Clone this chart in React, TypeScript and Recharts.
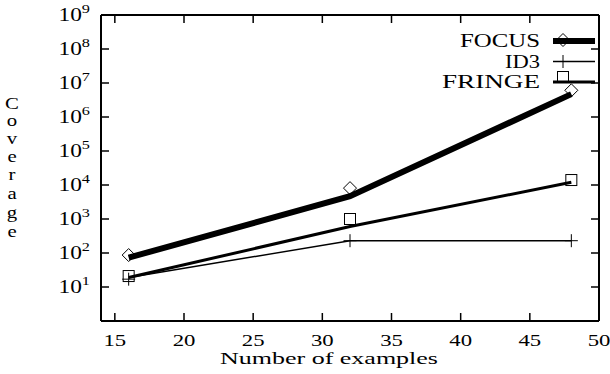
import React from "react";
import { ComposedChart, Line, XAxis, YAxis, Customized } from "recharts";

const xValues = [16, 32, 48];
const focusLine = [73, 4700, 4.7e6];
const focusPoints = [87, 8100, 6.1e6];
const id3Line = [19, 230, 230];
const id3Points = [17, 230, 230];
const fringeLine = [19, 600, 12000];
const fringePoints = [21, 1000, 14000];
const xTicks = [15, 20, 25, 30, 35, 40, 45, 50];
const yTicks = [10, 100, 1e3, 1e4, 1e5, 1e6, 1e7, 1e8, 1e9];
const legendLabels = ["FOCUS", "ID3", "FRINGE"];
const xLabel = "Number of examples";
const yLabel = "Coverage";

const data = xValues.map((x, i) => ({
  x,
  focusLine: focusLine[i],
  focusPoints: focusPoints[i],
  id3Line: id3Line[i],
  id3Points: id3Points[i],
  fringeLine: fringeLine[i],
  fringePoints: fringePoints[i],
}));

const FONT = "'Liberation Serif', serif";
const SX = 1.3;
const TL = 8;

const Diamond = (p: any) => {
  const { cx, cy } = p;
  if (cx == null || cy == null) return null;
  const r = 6.5;
  return <path key={p.index} d={`M${cx},${cy - r}L${cx + r},${cy}L${cx},${cy + r}L${cx - r},${cy}Z`} fill="none" stroke="#000" strokeWidth={1} />;
};
const Square = (p: any) => {
  const { cx, cy } = p;
  if (cx == null || cy == null) return null;
  const r = 5.5;
  return <rect key={p.index} x={cx - r} y={cy - r} width={2 * r} height={2 * r} fill="none" stroke="#000" strokeWidth={1} />;
};
const Plus = (p: any) => {
  const { cx, cy } = p;
  if (cx == null || cy == null) return null;
  const r = 6.5;
  return <path key={p.index} d={`M${cx - r},${cy}H${cx + r}M${cx},${cy - r}V${cy + r}`} fill="none" stroke="#000" strokeWidth={1} />;
};

const BottomTick = (p: any) => {
  const { x, y, payload } = p;
  return (
    <g>
      <line x1={x} y1={y} x2={x} y2={y - TL} stroke="#000" strokeWidth={1.5} />
      <g transform={`translate(${x},${y + 25}) scale(${SX},1)`}>
        <text x={0} y={0} textAnchor="middle" fontFamily={FONT} fontSize={17.5} fill="#000">{payload.value}</text>
      </g>
    </g>
  );
};
const TopTick = (p: any) => {
  const { x, y } = p;
  return <line x1={x} y1={y} x2={x} y2={y + TL} stroke="#000" strokeWidth={1.5} />;
};
const LeftTick = (p: any) => {
  const { x, y, payload } = p;
  const exp = Math.round(Math.log10(payload.value));
  return (
    <g>
      <line x1={x} y1={y} x2={x + TL} y2={y} stroke="#000" strokeWidth={1.5} />
      <g transform={`translate(${x - 11},${y + 6}) scale(${SX},1)`}>
        <text x={0} y={0} textAnchor="end" fontFamily={FONT} fontSize={18} fill="#000">
          <tspan>10</tspan>
          <tspan dy={-8} fontSize={12.5}>{exp}</tspan>
        </text>
      </g>
    </g>
  );
};
const RightTick = (p: any) => {
  const { x, y } = p;
  return <line x1={x} y1={y} x2={x - TL} y2={y} stroke="#000" strokeWidth={1.5} />;
};

const legendRows = [
  { label: legendLabels[0], w: 6, mark: "diamond", tl: 80 },
  { label: legendLabels[1], w: 1.5, mark: "plus", tl: 35 },
  { label: legendLabels[2], w: 3, mark: "square", tl: 98 },
];

const Extras = () => {
  const letters = yLabel.split("");
  const baselines = [109, 126, 144, 162, 180, 199, 218, 237];
  return (
    <g>
      {legendRows.map((r, i) => {
        const cy = 41 + i * 20.5;
        const mx = 563;
        return (
          <g key={r.label}>
            <text x={540} y={cy + 6} textAnchor="end" fontFamily={FONT} fontSize={18} fill="#000" textLength={r.tl} lengthAdjust="spacingAndGlyphs">{r.label}</text>
            <line x1={553} y1={cy} x2={595} y2={cy} stroke="#000" strokeWidth={r.w} />
            {r.mark === "diamond" && <Diamond cx={mx} cy={cy - 1} />}
            {r.mark === "plus" && <Plus cx={mx} cy={cy} />}
            {r.mark === "square" && <Square cx={mx} cy={cy - 5} />}
          </g>
        );
      })}
      <text x={329} y={364} textAnchor="middle" fontFamily={FONT} fontSize={17} fill="#000" textLength={218} lengthAdjust="spacingAndGlyphs">{xLabel}</text>
      {letters.map((c, i) => (
        <g key={i} transform={`translate(12,${baselines[i]}) scale(${SX},1)`}>
          <text x={0} y={0} textAnchor="middle" fontFamily={FONT} fontSize={16} fill="#000">{c}</text>
        </g>
      ))}
    </g>
  );
};

export default function App() {
  return (
    <div style={{ position: "absolute", left: 0, top: 0, width: 610, height: 374, background: "#fff" }}>
      <ComposedChart width={610} height={374} data={data} margin={{ top: 14, right: 10, bottom: 52, left: 100 }}>
        <XAxis xAxisId="bottom" dataKey="x" type="number" domain={[14, 50]} ticks={xTicks} interval={0} allowDataOverflow
          orientation="bottom" height={1} tickSize={0} tickMargin={0} tickLine={false} tick={<BottomTick />}
          axisLine={{ stroke: "#000", strokeWidth: 2 }} />
        <XAxis xAxisId="top" dataKey="x" type="number" domain={[14, 50]} ticks={xTicks} interval={0} allowDataOverflow
          orientation="top" height={1} tickSize={0} tickMargin={0} tickLine={false} tick={<TopTick />}
          axisLine={{ stroke: "#000", strokeWidth: 2 }} />
        <YAxis yAxisId="left" type="number" scale="log" domain={[1, 1e9]} ticks={yTicks} interval={0} allowDataOverflow
          orientation="left" width={1} tickSize={0} tickMargin={0} tickLine={false} tick={<LeftTick />}
          axisLine={{ stroke: "#000", strokeWidth: 2 }} />
        <YAxis yAxisId="right" type="number" scale="log" domain={[1, 1e9]} ticks={yTicks} interval={0} allowDataOverflow
          orientation="right" width={1} tickSize={0} tickMargin={0} tickLine={false} tick={<RightTick />}
          axisLine={{ stroke: "#000", strokeWidth: 2 }} />
        <Line xAxisId="bottom" yAxisId="left" dataKey="focusLine" stroke="#000" strokeWidth={6} dot={false} isAnimationActive={false} />
        <Line xAxisId="bottom" yAxisId="left" dataKey="id3Line" stroke="#000" strokeWidth={1.5} dot={false} isAnimationActive={false} />
        <Line xAxisId="bottom" yAxisId="left" dataKey="fringeLine" stroke="#000" strokeWidth={3} dot={false} isAnimationActive={false} />
        <Line xAxisId="bottom" yAxisId="left" dataKey="focusPoints" stroke="none" dot={Diamond} isAnimationActive={false} />
        <Line xAxisId="bottom" yAxisId="left" dataKey="id3Points" stroke="none" dot={Plus} isAnimationActive={false} />
        <Line xAxisId="bottom" yAxisId="left" dataKey="fringePoints" stroke="none" dot={Square} isAnimationActive={false} />
        <Customized component={<Extras />} />
      </ComposedChart>
    </div>
  );
}
